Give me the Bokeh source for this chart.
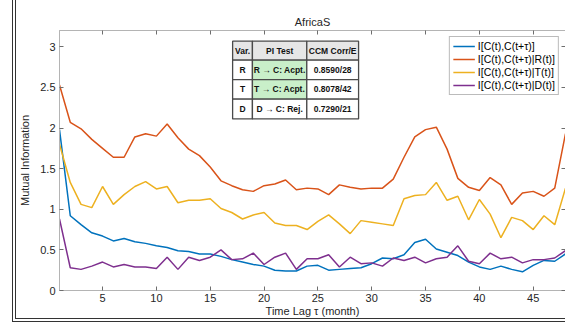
from bokeh.plotting import figure
from bokeh.models import (Legend, LegendItem, LinearAxis, FixedTicker, NumeralTickFormatter,
                          CustomJSTickFormatter, Range1d, ColumnDataSource)
from bokeh.core.properties import value
from bokeh.embed import file_html
from bokeh.resources import INLINE

# ---------------- data ----------------
lags = list(range(1, 49))

mi_c = [1.98, 0.92, 0.81, 0.71, 0.67, 0.61, 0.64, 0.60, 0.58, 0.55, 0.53, 0.49,
        0.48, 0.45, 0.45, 0.42, 0.38, 0.35, 0.32, 0.30, 0.25, 0.24, 0.24, 0.30,
        0.31, 0.25, 0.26, 0.27, 0.28, 0.33, 0.40, 0.39, 0.44, 0.59, 0.63, 0.51,
        0.47, 0.43, 0.35, 0.29, 0.26, 0.30, 0.26, 0.23, 0.31, 0.37, 0.36, 0.45]

mi_r = [2.53, 2.07, 1.99, 1.86, 1.75, 1.64, 1.64, 1.89, 1.93, 1.90, 2.05, 1.88,
        1.74, 1.66, 1.52, 1.35, 1.29, 1.24, 1.22, 1.29, 1.31, 1.36, 1.24, 1.26,
        1.25, 1.18, 1.30, 1.27, 1.25, 1.26, 1.26, 1.37, 1.64, 1.89, 1.98, 2.01,
        1.74, 1.38, 1.27, 1.23, 1.39, 1.30, 1.06, 1.20, 1.22, 1.16, 1.26, 1.93]

mi_t = [1.80, 1.33, 1.06, 1.02, 1.28, 1.06, 1.18, 1.28, 1.34, 1.25, 1.28, 1.08,
        1.11, 1.11, 1.13, 1.01, 0.96, 0.88, 0.93, 0.96, 0.83, 0.80, 0.80, 0.75,
        0.85, 0.93, 0.82, 0.70, 0.86, 0.84, 0.82, 0.80, 1.13, 1.17, 1.18, 1.33,
        1.11, 1.16, 0.87, 1.12, 0.94, 0.65, 0.90, 0.86, 0.75, 0.92, 0.81, 1.26]

mi_d = [0.88, 0.28, 0.26, 0.30, 0.35, 0.29, 0.32, 0.29, 0.29, 0.27, 0.41, 0.26,
        0.41, 0.37, 0.41, 0.50, 0.38, 0.39, 0.46, 0.32, 0.41, 0.46, 0.26, 0.39,
        0.39, 0.44, 0.29, 0.41, 0.33, 0.34, 0.30, 0.40, 0.37, 0.41, 0.34, 0.39,
        0.41, 0.55, 0.36, 0.33, 0.46, 0.39, 0.41, 0.34, 0.38, 0.38, 0.40, 0.49]

series_labels = ["I[C(t),C(t+τ)]", "I[C(t),C(t+τ)|R(t)]",
                 "I[C(t),C(t+τ)|T(t)]", "I[C(t),C(t+τ)|D(t)]"]

x_ticks = [5, 10, 15, 20, 25, 30, 35, 40, 45]
y_ticks = [0, 0.5, 1, 1.5, 2, 2.5, 3]

tbl_var = ["Var.", "R", "T", "D"]
tbl_pi = ["PI Test", "R → C: Acpt.", "T → C: Acpt.", "D → C: Rej."]
tbl_ccm = ["CCM Corr/E", "0.8590/28", "0.8078/42", "0.7290/21"]
tbl_accept = [None, True, True, False]

# ---------------- styling ----------------
FONT = "Liberation Sans"
colors = ["#0072BD", "#D95319", "#EDB120", "#7E2F8E"]
BOX = "#b4b4b4"
TXT = "#262626"

p = figure(width=553, height=322, x_range=Range1d(1, 48), y_range=Range1d(0, 3.2),
           output_backend="svg", toolbar_location=None,
           min_border_left=38, min_border_right=4, min_border_top=30, min_border_bottom=32,
           title="AfricaS")
p.styles = {"margin-left": "12px", "border-left": "4px double #333",
            "border-bottom": "4px double #333"}

p.title.align = "center"
p.title.text_font = FONT
p.title.text_font_size = "11px"
p.title.text_font_style = "normal"
p.title.text_color = TXT
p.title.offset = 0
p.title.standoff = 5

p.xgrid.visible = False
p.ygrid.visible = False
p.outline_line_color = BOX

def style_axis(ax, ticks, show_labels):
    ax.ticker = FixedTicker(ticks=ticks)
    ax.axis_line_color = BOX
    ax.major_tick_line_color = "#6e6e6e"
    ax.major_tick_in = 4
    ax.major_tick_out = 0
    ax.minor_tick_line_color = None
    ax.major_label_text_font = FONT
    ax.major_label_text_color = TXT
    ax.major_label_text_font_size = "11px"
    ax.major_label_standoff = 5 if show_labels else 0
    ax.axis_label_text_font = FONT
    ax.axis_label_text_font_size = "11px"
    ax.axis_label_text_font_style = "normal"
    ax.axis_label_text_color = TXT
    if not show_labels:
        ax.formatter = CustomJSTickFormatter(code="return ''")

xa = p.xaxis[0]
ya = p.yaxis[0]
style_axis(xa, x_ticks, True)
style_axis(ya, y_ticks, True)
ya.major_label_standoff = 4
ya.formatter = NumeralTickFormatter(format="0.[0]")
xa.axis_label = "Time Lag τ (month)"
ya.axis_label = "Mutual Information"
xa.major_label_standoff = 3
xa.axis_label_standoff = 0
ya.axis_label_standoff = 6

top_ax = LinearAxis()
right_ax = LinearAxis()
style_axis(top_ax, x_ticks, False)
style_axis(right_ax, y_ticks, False)
p.add_layout(top_ax, "above")
p.add_layout(right_ax, "right")

# ---------------- lines ----------------
renderers = []
for ys, c in zip([mi_c, mi_r, mi_t, mi_d], colors):
    r = p.line(lags, ys, line_color=c, line_width=1.5)
    renderers.append(r)

legend = Legend(items=[LegendItem(label=l, renderers=[r]) for l, r in zip(series_labels, renderers)],
                location="top_right")
legend.label_text_font = FONT
legend.label_text_font_size = "10.5px"
legend.label_text_color = "#000000"
legend.glyph_width = 22
legend.glyph_height = 12
legend.label_height = 12
legend.label_standoff = 3
legend.spacing = 1
legend.padding = 3
legend.margin = 6
legend.border_line_color = "#777777"
legend.border_line_width = 1
legend.background_fill_alpha = 1
p.add_layout(legend)

# ---------------- table (annotation) ----------------
col_edges = [17.08, 18.92, 23.97, 28.78]
row_edges = [3.069, 2.835, 2.595, 2.355, 2.112]

cells = dict(left=[], right=[], top=[], bottom=[], fill=[], cx=[], cy=[], txt=[])
for ri in range(4):
    row_txt = [tbl_var[ri], tbl_pi[ri], tbl_ccm[ri]]
    for ci in range(3):
        l, r_ = col_edges[ci], col_edges[ci + 1]
        t, b = row_edges[ri], row_edges[ri + 1]
        if ri == 0:
            fill = "#e6e6e6"
        elif ci == 1 and tbl_accept[ri]:
            fill = "#c9efc9"
        else:
            fill = "#ffffff"
        cells["left"].append(l); cells["right"].append(r_)
        cells["top"].append(t); cells["bottom"].append(b)
        cells["fill"].append(fill)
        cells["cx"].append((l + r_) / 2); cells["cy"].append((t + b) / 2)
        cells["txt"].append(row_txt[ci])

src = ColumnDataSource(cells)
p.quad(left="left", right="right", top="top", bottom="bottom", fill_color="fill",
       line_color="#4a4a4a", line_width=1.3, source=src)
p.text(x="cx", y="cy", text="txt", source=src, text_font=value(FONT),
       text_font_size="8.5px", text_font_style="bold", text_align="center",
       text_baseline="middle", text_color="#111111")

open("out.html", "w").write(file_html(p, INLINE))
